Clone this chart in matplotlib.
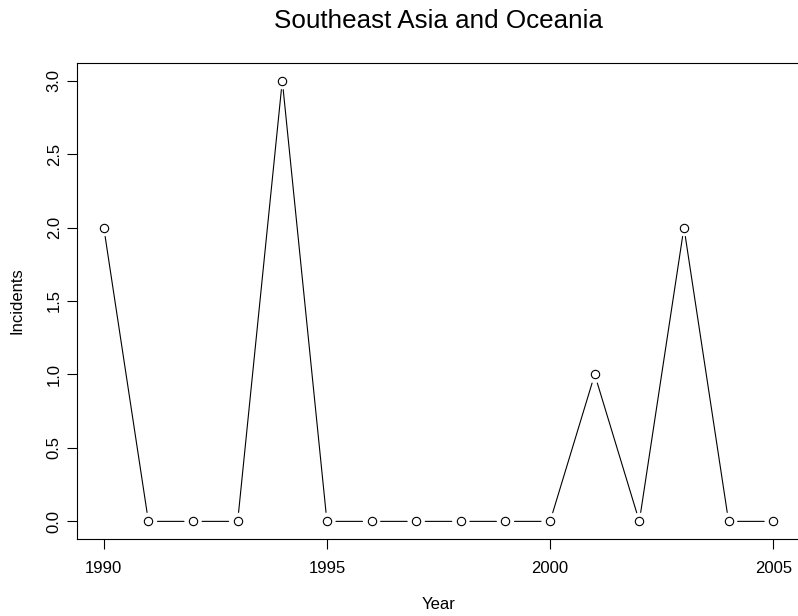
import matplotlib
matplotlib.use('Agg')
from matplotlib import pyplot as plt

plt.rcParams['font.family'] = ['Liberation Sans', 'DejaVu Sans']

years = [1990, 1991, 1992, 1993, 1994, 1995, 1996, 1997,
         1998, 1999, 2000, 2001, 2002, 2003, 2004, 2005]
incidents = [2, 0, 0, 0, 3, 0, 0, 0, 0, 0, 0, 1, 0, 2, 0, 0]

fig = plt.figure(figsize=(7.98, 6.16), dpi=100)
ax = fig.add_axes([77 / 798, 77 / 616, 723 / 798, 476 / 616])

ax.set_xlim(1989.4, 2005.6)
ax.set_ylim(-0.12, 3.12)

# lines with gaps around the points, like R type="b"
for i in range(len(years) - 1):
    ax.annotate('', xy=(years[i + 1], incidents[i + 1]),
                xytext=(years[i], incidents[i]),
                arrowprops=dict(arrowstyle='-', color='black', lw=0.8,
                                shrinkA=6.5, shrinkB=6.5))

ax.plot(years, incidents, linestyle='none', marker='o', markersize=6,
        markerfacecolor='white', markeredgecolor='black', markeredgewidth=0.8)

ax.set_xticks([1990, 1995, 2000, 2005])
ax.set_yticks([0.0, 0.5, 1.0, 1.5, 2.0, 2.5, 3.0])
ax.set_yticklabels(['0.0', '0.5', '1.0', '1.5', '2.0', '2.5', '3.0'],
                   rotation=90, va='center')
ax.tick_params(direction='out', length=7, width=0.8, labelsize=12)
ax.tick_params(axis='x', pad=9)
ax.tick_params(axis='y', pad=4)
for s in ax.spines.values():
    s.set_linewidth(0.8)
ax.spines['right'].set_visible(False)

ax.set_xlabel('Year', fontsize=12, labelpad=15)
ax.set_ylabel('Incidents', fontsize=12, labelpad=16)
ax.set_title('Southeast Asia and Oceania', fontsize=18.7, pad=25)

fig.savefig('out.png', dpi=100)
